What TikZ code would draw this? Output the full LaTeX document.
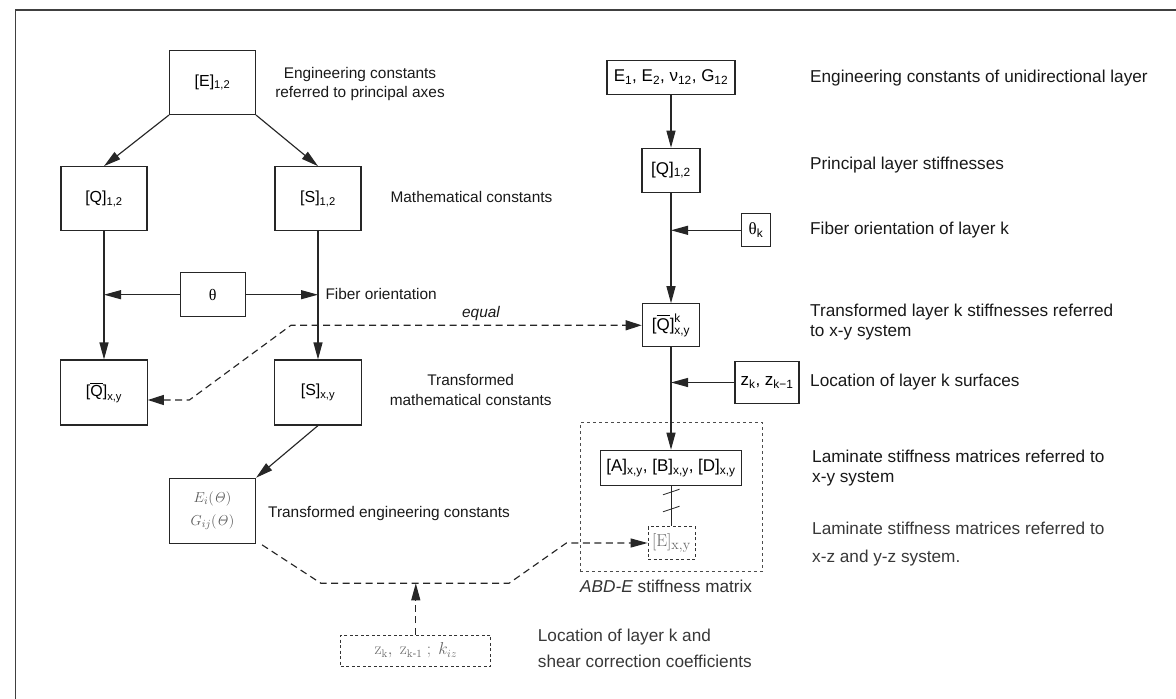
\documentclass[tikz,border=0pt]{standalone}
\usepackage{amsmath}
\usepackage[no-math]{fontspec}
\setmainfont{Liberation Sans}
\newfontfamily\greekserif{Liberation Serif}
\usetikzlibrary{arrows.meta}

\begin{document}
\begin{tikzpicture}[x=1pt,y=-1pt,
  bx/.style={draw=black!85, line width=1.15pt, inner sep=0pt, align=center,
             font=\fontsize{16}{19}\selectfont},
  rbx/.style={bx, font=\fontsize{17}{20}\selectfont},
  dbx/.style={draw=black!80, line width=0.8pt, dash pattern=on 3pt off 2.5pt,
              inner sep=0pt, text=black!60},
  lbl/.style={inner sep=0pt, anchor=west, align=left,
              font=\fontsize{15.4}{19}\selectfont, text=black!90},
  clbl/.style={lbl, anchor=center, align=center},
  rlbl/.style={lbl, font=\fontsize{17.2}{20.6}\selectfont},
  nlbl/.style={lbl, font=\fontsize{17.2}{27.5}\selectfont, text=black!78},
  flow/.style={line width=1.15pt, draw=black!85, -{Triangle[length=17pt,width=9pt]}},
  dflow/.style={flow, dash pattern=on 7pt off 4.5pt},
  dflowboth/.style={dflow, {Triangle[length=16pt,width=10pt]}-{Triangle[length=16pt,width=10pt]}},
  tick/.style={line width=0.8pt, draw=black!85},
  frame/.style={line width=1.4pt, draw=black!75}]

\useasboundingbox (0,0) rectangle (1176,699);

% outer frame (top and left edges)
\coordinate (fr1) at (15.3,699);
\coordinate (fr2) at (15.3,10);
\coordinate (fr3) at (1176,10);
\draw[frame] (fr1) -- (fr2) -- (fr3);

% ---------------- left scheme ----------------
\node[bx, minimum width=86pt, minimum height=64pt] (E12) at (212.5,82.5) {[E]\textsubscript{1,2}};
\node[bx, minimum width=86pt, minimum height=64pt] (Q12) at (104,198.7) {[Q]\textsubscript{1,2}};
\node[bx, minimum width=86pt, minimum height=64pt] (S12) at (318,198.7) {[S]\textsubscript{1,2}};
\node[bx, minimum width=65pt, minimum height=44pt] (theta) at (212.6,294.7) {{\greekserif θ}};
\node[bx, minimum width=86.5pt, minimum height=65pt] (Qxy) at (104,392.5)
  {$\text{[}\overline{\text{Q}}\text{]}_{\text{x,y}}$};
\node[bx, minimum width=86.5pt, minimum height=65pt] (Sxy) at (318,392.5) {[S]\textsubscript{x,y}};
\node[bx, minimum width=86pt, minimum height=65pt, text=black!65,
      font=\fontsize{15.5}{23.4}\selectfont] (Ei) at (212.5,510.8)
  {$E_i(\mathit{\Theta})$\\$G_{ij}(\mathit{\Theta})$};
\node[dbx, minimum width=150pt, minimum height=31pt, font=\fontsize{16}{19}\selectfont] (zb) at (415.8,650.5)
  {$\mathrm{z}_{\mathrm{k}},\ \mathrm{z}_{\mathrm{k}\text{-}\mathrm{1}}\ ;\ k_{iz}$};

\node[clbl] (lE) at (360,84.5) {Engineering constants\\referred to principal axes};
\node[lbl] (lM) at (390.4,197) {Mathematical constants};
\node[lbl] (lF) at (325.3,294.3) {Fiber orientation};
\node[clbl, font=\fontsize{15.4}{19}\selectfont\itshape] (leq) at (481,313.3) {equal};
\node[clbl, font=\fontsize{15.4}{20}\selectfont] (lT) at (470.7,390) {Transformed\\mathematical constants};
\node[lbl] (lTE) at (268,513.3) {Transformed engineering constants};
\node[nlbl, font=\fontsize{17.2}{26.7}\selectfont] (lLoc) at (537.7,648.3) {Location of layer k and\\shear correction coefficients};

\draw[flow] (E12.south west) -- (Q12.north);
\draw[flow] (E12.south east) -- (S12.north);
\draw[flow] (Q12.south) -- (Qxy.north);
\draw[flow] (S12.south) -- (Sxy.north);
\draw[flow] (theta.west) -- (theta.west -| Q12.south);
\draw[flow] (theta.east) -- (theta.east -| S12.south);
\draw[flow] (Sxy.south) -- (Ei.north east);

% ---------------- right scheme ----------------
\node[draw=black!70, line width=0.8pt, dash pattern=on 3pt off 3pt, inner sep=0pt,
      minimum width=182.7pt, minimum height=148.3pt] (abd) at (671.3,496.9) {};
\node[lbl, text=black!80, font=\fontsize{17.2}{20}\selectfont] (labd) at (580,586.7) {\textit{ABD-E} stiffness matrix};

\node[rbx, minimum width=128pt, minimum height=34pt] (E1) at (671,77.2)
  {E\textsubscript{1}, E\textsubscript{2}, ν\textsubscript{12}, G\textsubscript{12}};
\node[rbx, minimum width=58pt, minimum height=44pt] (Q12r) at (671,170.3) {[Q]\textsubscript{1,2}};
\node[rbx, minimum width=28.5pt, minimum height=33pt] (thk) at (756,230.3) {{\greekserif θ}\textsubscript{k}};
\node[rbx, minimum width=57.5pt, minimum height=43pt] (Qk) at (671,325.3)
  {$\text{[}\overline{\text{Q}}\text{]}^{\text{k}}_{\text{x,y}}$};
\node[rbx, minimum width=64pt, minimum height=41.6pt] (zk) at (767,382.5)
  {z\textsubscript{k}, z\textsubscript{k−1}};
\node[rbx, minimum width=140.5pt, minimum height=35pt] (ABD) at (671,467.8)
  {[A]\textsubscript{x,y}, [B]\textsubscript{x,y}, [D]\textsubscript{x,y}};
\node[dbx, minimum width=47pt, minimum height=32.6pt, font=\fontsize{19}{22}\selectfont] (Exy) at (671.5,543)
  {$[\mathrm{E}]_{\mathrm{x,y}}$};

\node[rlbl] (rE) at (810,77.7) {Engineering constants of unidirectional layer};
\node[rlbl] (rP) at (810,165) {Principal layer stiffnesses};
\node[rlbl] (rF) at (810,230.5) {Fiber orientation of layer k};
\node[rlbl] (rT) at (810,322) {Transformed layer k stiffnesses referred\\to x-y system};
\node[rlbl] (rL) at (810,382) {Location of layer k surfaces};
\node[rlbl, font=\fontsize{17.2}{20}\selectfont] (rA) at (812,468.3) {Laminate stiffness matrices referred to\\x-y system};
\node[nlbl, font=\fontsize{17.2}{28}\selectfont] (rA2) at (812,544) {Laminate stiffness matrices referred to\\x-z and y-z system.};

\draw[flow] (E1.south) -- (Q12r.north);
\draw[flow] (Q12r.south) -- (Qk.north);
\draw[flow] (thk.west) -- (thk.west -| Q12r.south);
\draw[flow] (Qk.south) -- (ABD.north);
\draw[flow] (zk.west) -- (zk.west -| Qk.south);
\draw[tick, line width=1.1pt] (ABD.south -| Exy.north) -- (Exy.north);
\coordinate (br1) at (671.3,492);
\coordinate (br2) at (671.3,509);
\draw[tick] (br1) ++(-8.3,2.8) -- ++(16.6,-5.6);
\draw[tick] (br2) ++(-8.3,2.8) -- ++(16.6,-5.6);

% ---------------- dashed cross links ----------------
\coordinate (eqA) at (290.9,326);
\coordinate (eqB) at (189.4,400);
\draw[dflowboth] ([yshift=-7.5pt]Qxy.east) -- (eqB) -- (eqA |- Qk.west) -- (Qk.west);

\coordinate (lowA) at (321,583.3);
\coordinate (lowB) at (509,583.3);
\coordinate (lowC) at (566.4,543);
\draw[dflow] ([xshift=6pt,yshift=-1pt]Ei.south east) -- (lowA) -- (lowB) -- (lowC |- Exy.west) -- (Exy.west);
\draw[dflow] (zb.north) -- (zb.north |- lowA);

\end{tikzpicture}
\end{document}
